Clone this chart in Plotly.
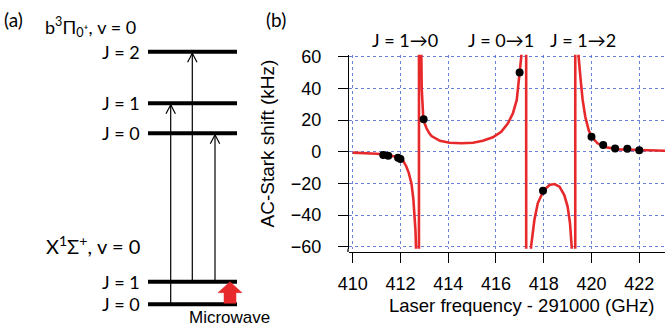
import plotly.graph_objects as go

W, H = 665, 326

# ---------------- panel (b) data ----------------
# AC-Stark shift model curve (values beyond the frame
# mark the poles where the curve runs off to +/- infinity)
fit_freq = [410.0, 410.5, 411.0, 411.5, 411.9, 412.1, 412.25, 412.35, 412.46, 412.54,
            412.59, 412.63, 412.65, 412.70, 412.76,
            412.79, 412.83, 412.86, 412.89, 412.96, 413.09, 413.21, 413.3, 413.65, 414.06,
            414.55, 415.04, 415.45, 415.87, 416.22, 416.5, 416.71, 416.87, 416.99, 417.06,
            417.15, 417.25,
            417.28, 417.40, 417.47, 417.61, 417.75, 417.99, 418.24, 418.45, 418.66, 418.86,
            419.0, 419.1, 419.17, 419.24, 419.31,
            419.33, 419.40, 419.46, 419.56, 419.63, 419.74, 419.88, 420.0, 420.25, 420.6,
            421.16, 422.0, 423.1]
fit_shift = [-0.6, -0.9, -1.3, -2.1, -3.6, -5.3, -9.5, -13.5, -20, -30,
             -40, -50, -60, -100, -2000,
             2000, 120, 60, 40, 20, 14.8, 11.6, 9.9, 6.9, 5.7,
             5.3, 5.7, 6.9, 9.1, 12.6, 17.9, 24.3, 32.7, 50, 60,
             120, 2000,
             -2000, -100, -60, -43, -32.6, -24.6, -21, -20.4, -22.1, -27.4,
             -34.7, -45.2, -60, -120, -2000,
             2000, 120, 60, 43.2, 32.7, 22.1, 13.7, 9.5, 5.3, 2.8,
             1.5, 1.1, 0.6]

# measured shifts
meas_freq = [411.28, 411.49, 411.90, 412.00, 412.97, 416.99, 417.97,
             420.00, 420.49, 420.99, 421.50, 422.00]
meas_shift = [-2.1, -2.5, -3.8, -4.6, 20.5, 50.0, -24.7,
              9.5, 4.3, 2.0, 1.8, 0.9]

x_ticks = [410, 412, 414, 416, 418, 420, 422]
y_ticks = [-60, -40, -20, 0, 20, 40, 60]

transition_labels = ["J = 1→0", "J = 0→1", "J = 1→2"]
transition_label_freq = [412.19, 416.21, 419.64]

# ---------------- panel (a) data ----------------
upper_state = ("b<sup>3</sup>Π<sub>0<span style='font-size:15px'>⁺</span></sub>"
               ", v = 0")
lower_state = "X<sup>1</sup>Σ<sup>+</sup>, v = 0"
upper_J = [2, 1, 0]
upper_E = [274.3, 222.7, 192.7]      # schematic energy units
lower_J = [1, 0]
lower_E = [44.3, 21.7]
laser_transitions = [(0, 1), (1, 2), (1, 0)]   # (lower J, upper J)

RED = "#e8292b"
AX_FONT = "Liberation Sans, Arial, sans-serif"
DIAG_FONT = "Lato, Open Sans, sans-serif"


def px(x):
    return x / W


def py(y):
    return 1 - y / H


fig = go.Figure()

# ---------- panel (b) ----------
fig.add_trace(go.Scatter(x=fit_freq, y=fit_shift, mode="lines",
                         line=dict(color=RED, width=2.6), hoverinfo="skip",
                         showlegend=False, xaxis="x", yaxis="y"))
fig.add_trace(go.Scatter(x=meas_freq, y=meas_shift, mode="markers",
                         marker=dict(color="black", size=8), showlegend=False,
                         xaxis="x", yaxis="y"))

# ---------- panel (a) ----------
lvl_x0, lvl_x1 = 148, 237
for E in upper_E + lower_E:
    fig.add_trace(go.Scatter(x=[lvl_x0, lvl_x1], y=[E, E], mode="lines",
                             line=dict(color="black", width=4), hoverinfo="skip",
                             showlegend=False, xaxis="x2", yaxis="y2"))

arrow_x = [170.7, 192.3, 215.0]
for (jl, ju), ax_ in zip(laser_transitions, arrow_x):
    e0 = lower_E[lower_J.index(jl)]
    e1 = upper_E[upper_J.index(ju)] - 1.5
    fig.add_trace(go.Scatter(x=[ax_, ax_, None, ax_ - 4.7, ax_, ax_ + 4.7],
                             y=[e0, e1, None, e1 - 9, e1, e1 - 9], mode="lines",
                             line=dict(color="black", width=1.2), hoverinfo="skip",
                             showlegend=False, xaxis="x2", yaxis="y2"))

# microwave arrow (J=0 -> J=1 in ground state)
mw_c = 230
e_bot, e_top = lower_E[1], lower_E[0]
head_base = e_top - 11
fig.add_trace(go.Scatter(
    x=[mw_c - 6, mw_c + 6, mw_c + 6, mw_c + 12, mw_c, mw_c - 12, mw_c - 6, mw_c - 6],
    y=[e_bot + 1, e_bot + 1, head_base, head_base, e_top, head_base, head_base, e_bot + 1],
    mode="lines", fill="toself", fillcolor=RED, line=dict(color=RED, width=0.5),
    hoverinfo="skip", showlegend=False, xaxis="x2", yaxis="y2"))

annotations = []
for J, E in zip(upper_J, upper_E):
    annotations.append(dict(x=142, y=E, xref="x2", yref="y2", text=f"J = {J}",
                            xanchor="right", yanchor="middle", showarrow=False,
                            font=dict(family=DIAG_FONT, size=18, color="black")))
for J, E in zip(lower_J, lower_E):
    annotations.append(dict(x=142, y=E, xref="x2", yref="y2", text=f"J = {J}",
                            xanchor="right", yanchor="middle", showarrow=False,
                            font=dict(family=DIAG_FONT, size=18, color="black")))

annotations += [
    dict(x=px(2), y=py(20), xref="paper", yref="paper", text="(a)", xanchor="left",
         yanchor="middle", showarrow=False, font=dict(family=DIAG_FONT, size=19)),
    dict(x=px(43), y=py(27), xref="paper", yref="paper", text=upper_state,
         xanchor="left", yanchor="middle", showarrow=False,
         font=dict(family=DIAG_FONT, size=18)),
    dict(x=px(142), y=py(245), xref="paper", yref="paper", text=lower_state,
         xanchor="right", yanchor="middle", showarrow=False,
         font=dict(family=DIAG_FONT, size=20)),
    dict(x=px(187), y=py(317), xref="paper", yref="paper", text="Microwave",
         xanchor="left", yanchor="middle", showarrow=False,
         font=dict(family=AX_FONT, size=17)),
    dict(x=px(264), y=py(20), xref="paper", yref="paper", text="(b)", xanchor="left",
         yanchor="middle", showarrow=False, font=dict(family=DIAG_FONT, size=19)),
    dict(x=px(521), y=py(305), xref="paper", yref="paper",
         text="Laser frequency - 291000 (GHz)", xanchor="center", yanchor="middle",
         showarrow=False, font=dict(family=AX_FONT, size=18.5)),
    dict(x=px(267), y=py(143.5), xref="paper", yref="paper",
         text="AC-Stark shift (kHz)", textangle=-90, xanchor="center",
         yanchor="middle", showarrow=False, font=dict(family=AX_FONT, size=19)),
]
for lab, f in zip(transition_labels, transition_label_freq):
    annotations.append(dict(x=f, y=py(40), xref="x", yref="paper", text=lab,
                            xanchor="center", yanchor="middle", showarrow=False,
                            font=dict(family=DIAG_FONT, size=18)))

# plot-area geometry (panel b)
L_px, R_px = 349, 665
x_per_px = 1 / 23.88
x_lo = 410 + (L_px - 352.7) * x_per_px
x_hi = 410 + (R_px - 352.7) * x_per_px
top_px, bot_px = 54.7, 248.7
y_pad = 2 / 1.583

grid = dict(showgrid=True, gridcolor="rgba(70,100,205,0.8)", griddash="dot",
            gridwidth=1, zeroline=False, automargin=False)

fig.update_layout(
    template="none",
    width=W, height=H, margin=dict(l=0, r=0, t=0, b=0, pad=0, autoexpand=False),
    font=dict(family=AX_FONT, color="black"),
    paper_bgcolor="white", plot_bgcolor="white",
    xaxis=dict(domain=[px(L_px), 1], range=[x_lo, x_hi], tickvals=x_ticks,
               anchor="free", position=py(252), showline=True, linecolor="black",
               linewidth=1.3, ticks="outside", ticklen=10, tickwidth=1.3,
               tickcolor="black", ticklabelstandoff=5,
               tickfont=dict(family=AX_FONT, size=18, color="black"), **grid),
    yaxis=dict(domain=[py(bot_px), py(top_px)], range=[-60 - y_pad, 60 + y_pad],
               tickvals=y_ticks, anchor="free", position=px(348), showline=True,
               linecolor="black", linewidth=1.3, ticks="outside", ticklen=10,
               tickwidth=1.3, tickcolor="black", ticklabelstandoff=13,
               tickfont=dict(family=AX_FONT, size=18, color="black"), **grid),
    xaxis2=dict(domain=[0, px(260)], range=[0, 260], visible=False, automargin=False),
    yaxis2=dict(domain=[0, 1], range=[0, H], visible=False, anchor="x2",
                automargin=False),
    annotations=annotations,
    shapes=[dict(type="line", xref="paper", yref="paper", x0=px(348), x1=px(348),
                 y0=py(bot_px), y1=py(252), line=dict(color="black", width=1.3))],
)

fig.write_html("out.html", config={"displayModeBar": False},
               post_script="document.body.style.margin='0px';"
                           "document.body.style.overflow='hidden';")
